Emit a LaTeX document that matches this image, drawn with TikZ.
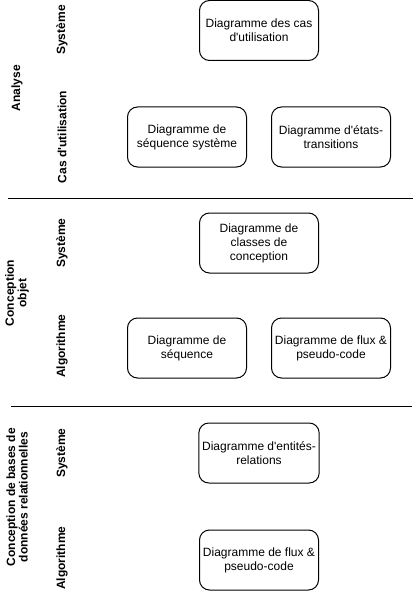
\documentclass[tikz,border=0pt]{standalone}
\usepackage{fontspec}
\setmainfont{Liberation Sans}
\usepackage{tikz}
\usetikzlibrary{positioning}

\newcommand{\apos}{\textquotesingle}

\begin{document}
\begin{tikzpicture}[x=1pt, y=-1pt, line width=1pt,
  diag/.style={rectangle, draw, rounded corners=10pt, minimum width=119pt, minimum height=60pt, align=center, font=\fontsize{12}{14}\selectfont},
  phase/.style={rotate=90, align=center, font=\fontsize{12}{12.5}\selectfont\bfseries},
  level/.style={rotate=90, font=\fontsize{12}{14}\selectfont\bfseries}]

  \useasboundingbox (0,0) rectangle (416,591);

  % phases
  \node[phase] (analyse) at (17,88) {Analyse};
  \node[phase] (objet) at (17,293) {Conception\\objet};
  \node[phase] (bdd) at (17,497) {Conception de bases de\\données relationnelles};

  % levels
  \node[level] (sys1) at (62,30) {Système};
  \node[level] (cas1) at (62,137) {Cas d\apos utilisation};
  \node[level] (sys2) at (62,243) {Système};
  \node[level] (alg2) at (62,346) {Algorithme};
  \node[level] (sys3) at (62,453) {Système};
  \node[level] (alg3) at (62,558) {Algorithme};

  % diagrams
  \node[diag] (cas) at (259,30.5) {Diagramme des cas\\d\apos utilisation};
  \node[diag] (seqsys) at (187,137) {Diagramme de\\séquence système};
  \node[diag] (etats) [right = 24pt of seqsys] {Diagramme d\apos états-\\transitions};
  \node[diag] (classes) at (259,243) {Diagramme de\\classes de\\conception};
  \node[diag] (seq) at (187,348) {Diagramme de\\séquence};
  \node[diag] (flux1) [right = 24pt of seq] {Diagramme de flux \&\\pseudo-code};
  \node[diag] (entites) at (259,453) {Diagramme d\apos entités-\\relations};
  \node[diag] (flux2) at (259,560) {Diagramme de flux \&\\pseudo-code};

  % separators
  \draw (8,198) -- (413,198);
  \draw (11,406.5) -- (412,406.5);
\end{tikzpicture}
\end{document}
